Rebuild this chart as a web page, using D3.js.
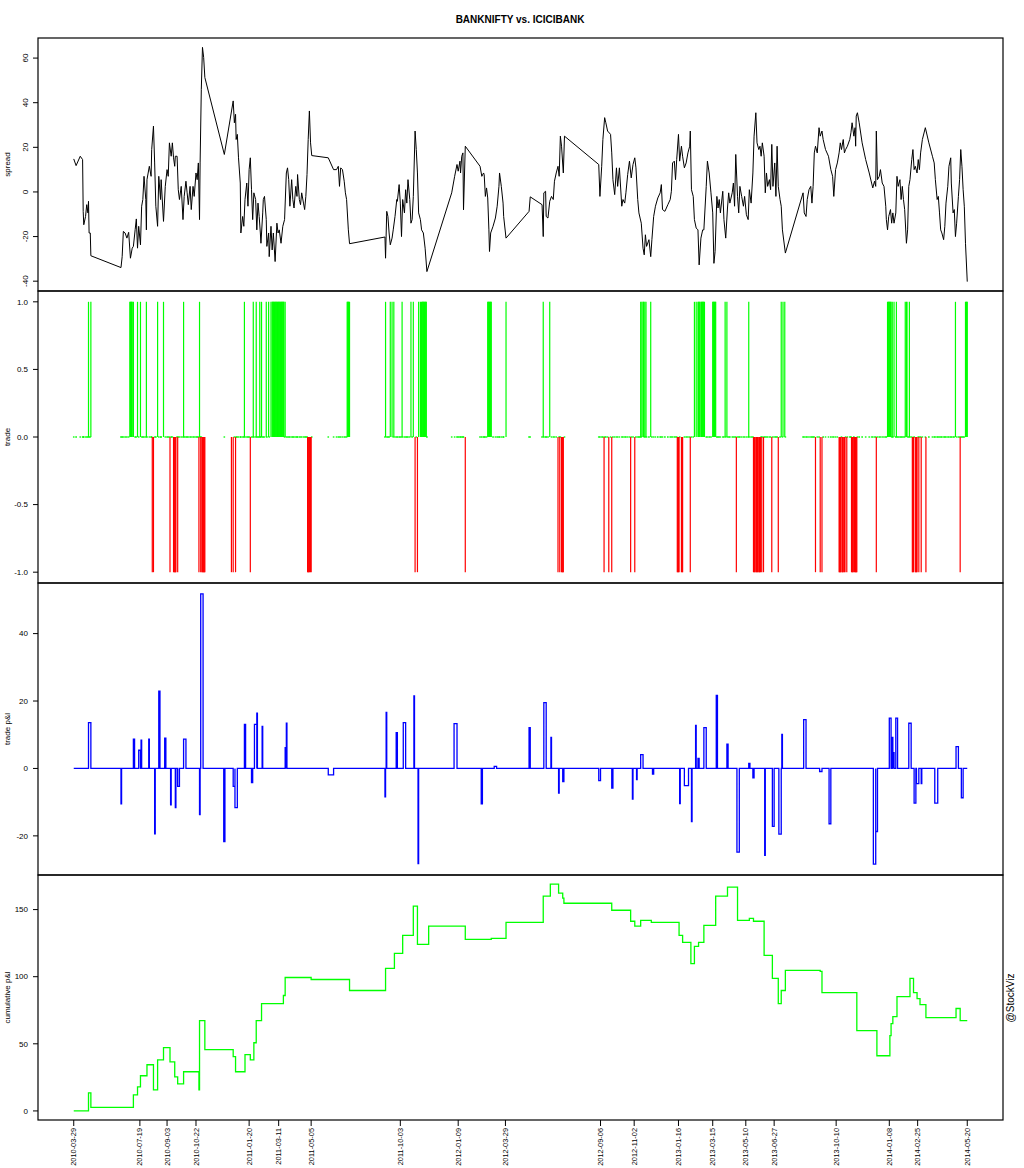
<!DOCTYPE html>
<html><head><meta charset="utf-8">
<script src="https://cdn.jsdelivr.net/npm/d3@7"></script>
<style>body{margin:0;background:#fff}svg{display:block}text{font-family:"Liberation Sans",Arial,sans-serif;fill:#000}</style>
</head><body><svg id="c" width="1024" height="1168"></svg>
<script>
// ---------------- DATA ----------------
const title = "BANKNIFTY vs. ICICIBANK";
const startDate = "2010-03-29";   // day offsets below are counted from this date
// spread: [day offset, value]
const spread = [
[0,14.8],[4,11.8],[11,16],[15,14.5],[16,-8.7],[17,-14.7],[20,-11],[22,-5.7],[24,-9.4],[25,-4.2],
[26,-18.4],[28,-18.4],[29,-28.6],[80,-33.9],[82,-29],[84,-17.7],[87,-18.4],[90,-20.7],[93,-18.1],[96,-29.7],
[99,-25.2],[101,-24.4],[104,-16.9],[106,-12.1],[108,-25.2],[110,-15.4],[113,-23.7],[115,-6.4],[117,-3.4],[119,7],
[122,-3.4],[123,-17],[124,5.5],[128,11.5],[131,7],[132,19],[135,29.5],[137,13],[139,-6.4],[142,-15.4],
[144,7],[147,-3.4],[148,5.5],[152,-13.2],[155,2.5],[158,10],[160,7],[162,22],[165,16],[167,22],
[169,15.3],[171,11.5],[172,16],[175,16],[177,1],[179,-3.4],[182,2.5],[185,-12.4],[187,-2],[190,4.8],
[192,-0.4],[194,-5.7],[197,2.5],[199,-7.9],[202,2.5],[204,-2],[207,8.5],[209,5.5],[211,13],[213,-12.4],
[214,13],[216,46],[218,64.8],[220,60.3],[222,51.3],[255,16.8],[270,40.8],[272,31],[274,34.8],[275,23.5],
[277,25.8],[279,15.3],[282,4],[283,-18.4],[286,-11],[288,-15.4],[290,-3.4],[293,4],[295,-6.4],[297,10],
[299,15.3],[301,1],[303,-12.4],[305,-0.4],[308,-3.4],[310,-17],[312,-5],[314,-11],[316,-18.4],[317,-23],
[320,-9.4],[321,-3.4],[323,-2],[326,-12.4],[327,-24.4],[330,-18.4],[331,-29],[334,-15.4],[336,-26],[338,-18.4],
[341,-31.2],[344,-14],[346,-18.4],[348,-17],[351,-23],[354,-15.4],[357,-12.4],[360,8.5],[362,10.8],[364,5.5],
[366,-6.4],[369,5.5],[371,-3.4],[373,-7.2],[376,2.5],[378,-2],[379,7.8],[382,-3.4],[384,-5.7],[386,-0.4],
[389,-5],[391,-7.9],[393,-2],[395,7.8],[397,23.5],[399,36.3],[401,22],[403,16.3],[431,15.3],[440,10],
[445,10],[448,11.5],[450,2.5],[452,10.8],[455,10],[458,4.8],[460,-0.4],[462,-3.4],[465,-17],[467,-23.2],
[527,-20.2],[528,-29.7],[530,-8.7],[532,-11],[534,-18.4],[536,-23.7],[539,-20.7],[541,-17],[544,-11],[547,-3.4],
[548,-4.2],[551,3.3],[553,-5],[555,-20],[557,-3.4],[560,-9.4],[562,1],[564,-5],[566,5.5],[569,-3.4],
[571,-14],[573,-12.4],[575,-2],[578,27.3],[580,19],[582,8.5],[584,-9.4],[587,-12.4],[589,-17],[592,-18.4],
[595,-25.2],[598,-35.7],[640,-0.4],[645,7],[649,12.3],[651,9.3],[654,13.8],[655,8.5],[657,16],[659,17.5],
[660,-8],[663,20.5],[688,11.5],[691,7],[694,8.5],[695,7.8],[697,-2],[699,1.8],[701,-2.7],[703,-17],
[704,-26.7],[706,-18.4],[710,-15.4],[714,-11.7],[717,-6.4],[720,2.5],[721,8.5],[724,2.5],[727,-5],[728,-11],
[732,-20.7],[771,-8.7],[773,-2.2],[793,-5.7],[795,-20],[796,-0.4],[799,0.3],[800,-11],[803,-11.7],[806,-4.2],
[809,-2],[812,-3.4],[814,4.8],[817,8.5],[820,11.5],[822,7],[824,25],[826,20.5],[829,8.5],[831,25],
[889,12.3],[891,-2],[894,11.5],[896,23.5],[899,33.3],[901,31],[904,27.3],[909,25.8],[911,17.5],[913,5.5],
[916,-1.2],[919,10.8],[921,2.5],[924,10.8],[928,-6.4],[930,-3.4],[933,-5],[935,-0.4],[938,7.8],[941,13.8],
[944,6.3],[947,12.3],[950,15.3],[952,10.8],[955,-3.4],[957,-9.4],[959,-11.7],[961,-14],[964,-25.2],[966,-28.2],
[968,-19.2],[970,-24.4],[974,-21.4],[977,-29],[979,-21.4],[982,-11],[985,-6.4],[989,-2.7],[993,-0.4],[995,3.3],
[997,-7.9],[1001,-8.7],[1006,-5.7],[1010,-3.4],[1012,0.3],[1014,13],[1017,13.8],[1019,5.5],[1021,14.5],[1024,25.8],
[1026,13.8],[1029,20.5],[1031,16],[1034,10.8],[1037,13],[1040,17.5],[1043,20.5],[1044,27.3],[1046,1],[1049,-2],
[1051,-12.4],[1054,-16.2],[1057,-17],[1059,-32.7],[1062,-20.7],[1065,-17],[1067,-17],[1071,2.5],[1073,13.8],[1076,8.5],
[1079,-0.4],[1082,-9.4],[1084,-32],[1086,-26.7],[1089,-2],[1091,-7.2],[1093,-3.4],[1095,-9.4],[1099,0.3],[1101,-12.4],
[1104,-20.7],[1107,-7.2],[1109,-0.4],[1111,-5],[1115,-0.4],[1117,4],[1119,-6.4],[1121,16.8],[1124,-2],[1126,-9.4],
[1128,2.5],[1131,-2],[1134,-6.4],[1136,-2],[1139,-10.2],[1142,-12.4],[1144,1],[1147,-5],[1150,8.5],[1152,25],
[1155,35.5],[1157,22],[1160,19],[1162,20.5],[1164,16],[1166,22],[1169,16],[1171,-0.4],[1173,8.5],[1175,2.5],
[1178,5.5],[1180,1],[1182,21.3],[1184,2.5],[1187,13],[1189,-2],[1191,20.5],[1193,2.5],[1196,-3.4],[1198,-6.4],
[1200,-17],[1205,-27.4],[1235,-0.4],[1237,-9.4],[1240,-11],[1242,-3.4],[1245,1],[1248,2.5],[1250,-5],[1252,2.5],
[1254,17.5],[1256,20.5],[1259,17.5],[1262,28.8],[1264,25],[1267,27.3],[1269,23.5],[1273,19],[1278,16],[1282,10],
[1285,7],[1287,-2],[1290,10],[1293,13],[1296,17.5],[1298,22],[1300,19],[1303,23.5],[1305,17.5],[1307,19],
[1310,20.5],[1314,23.5],[1316,26.5],[1318,31],[1321,25],[1323,28.8],[1324,20.5],[1325,34],[1327,35.5],[1330,31],
[1335,22],[1341,14.5],[1347,8.5],[1351,4],[1353,1.8],[1356,4.8],[1358,2.5],[1359,27.3],[1361,5.5],[1364,7],
[1366,10],[1369,4],[1372,2.5],[1375,-6.4],[1376,-12.4],[1378,-17],[1380,-11],[1383,-7.9],[1385,-14],[1387,-9.4],
[1389,-14],[1392,-9.4],[1394,7],[1396,2.5],[1399,5.5],[1401,-3.4],[1403,2.5],[1405,-3.4],[1407,-7.9],[1410,-23],
[1412,-17],[1414,2.5],[1416,5.5],[1419,14.5],[1421,19],[1423,10],[1425,11.5],[1428,8.5],[1430,14.5],[1432,10],
[1434,17.5],[1437,23.5],[1442,28.8],[1448,22],[1454,16],[1457,13],[1459,5.5],[1462,-3.4],[1464,-2],[1466,-9.4],
[1468,-17],[1470,-18.4],[1473,-21.4],[1475,-15.4],[1477,-5],[1480,2.5],[1482,11.5],[1485,15.3],[1486,4],[1489,-9.4],
[1491,-7.9],[1493,-20],[1495,-14],[1498,-2],[1500,5.5],[1502,19],[1504,11.5],[1506,1],[1508,-6.4],[1510,-23],
[1513,-40.2]
];
// trade = +1 days (long) and -1 days (short)
const longDays = [25,29,95,96,97,98,99,101,108,113,123,142,152,186,213,289,304,309,315,318,326,330,334,
336,337,338,339,340,341,342,343,344,345,346,347,348,349,350,351,352,353,354,355,356,358,
463,464,465,466,467,528,536,539,542,556,571,575,584,587,589,590,591,592,593,594,595,596,597,
701,702,703,704,705,706,707,732,795,806,960,962,964,965,967,969,977,1051,1054,1057,1058,1059,1060,
1062,1063,1064,1065,1066,1067,1068,1082,1083,1084,1085,1086,1087,1103,1106,1143,1198,1201,1204,
1378,1379,1380,1381,1382,1383,1384,1386,1389,1393,1408,1410,1411,1415,1493,1510,1511,1512,1513];
const shortDays = [133,135,163,169,170,171,172,173,176,212,215,217,218,219,220,221,222,267,270,274,299,
396,397,398,399,401,402,578,582,663,820,823,826,827,828,829,898,906,911,943,950,
1022,1023,1024,1025,1029,1030,1031,1044,1122,1151,1152,1153,1155,1156,1157,1158,1160,1161,1162,1163,1165,1168,
1182,1193,1256,1264,1267,1296,1297,1298,1299,1301,1302,1303,1305,1306,1309,1317,1318,1319,1320,1322,1323,1324,1325,1326,
1359,1420,1421,1422,1425,1426,1427,1428,1431,1435,1443,1501];
// trade p&l excursions: [start day, end day, value]
const tradePnl = [
[25,29,13.6],[80,81,-10.5],[101,103,8.7],[110,113,5.4],[114,115,8.4],[127,128,8.7],[137,138,-19.4],[144,146,22.9],
[154,156,9],[164,165,-10.8],[172,173,-11.6],[176,179,-5.3],[186,190,8.7],[213,214,-13.7],[215,219,51.8],[254,256,-21.7],
[270,273,-5.3],[273,277,-11.6],[289,291,13.1],[301,303,-4.2],[306,310,13.1],[310,311,16.4],[319,320,12.5],[358,360,6.2],
[360,361,13.4],[431,440,-1.9],[527,528,-8.4],[529,530,16.6],[546,548,10.6],[558,562,13.6],[576,577,21.5],[583,584,-28.2],
[644,649,13.3],[690,692,-10.5],[712,716,0.6],[771,773,12.1],[796,800,19.5],[808,809,9.2],[821,822,-7.3],[828,830,-3.9],
[889,892,-3.6],[911,913,-5.8],[946,947,-9.1],[953,954,-3.3],[960,964,4.1],[980,982,-1.7],[1026,1027,-10.4],[1034,1041,-5.1],
[1046,1047,-15.8],[1053,1054,12.8],[1057,1059,3],[1067,1071,12.1],[1088,1090,21.7],[1106,1108,7.2],[1123,1127,-24.8],[1143,1145,1.5],
[1150,1152,-2.8],[1170,1171,-25.8],[1183,1186,-17.2],[1194,1198,-19.5],[1199,1200,10.1],[1236,1240,14.5],[1263,1267,-0.9],[1279,1282,-16.4],
[1354,1358,-28.4],[1358,1361,-18.7],[1381,1384,14.9],[1386,1387,9.2],[1387,1389,4.7],[1392,1395,14.9],[1414,1418,13.4],[1423,1426,-10.3],
[1427,1431,-4.5],[1435,1436,-4.5],[1458,1463,-10.3],[1494,1498,6.5],[1503,1506,-8.7]
];
const lastDay = 1513;
// cumulative p&l steps: [day, value]
const cumulative = [
[0,0],[25,13.5],[29,2.7],[101,12],[108,17.9],[113,26.2],[124,34.4],[135,15.7],[142,38.1],[152,47.1],
[163,36.6],[171,25.4],[176,20.2],[186,29.2],[212,15.7],[213,67.3],[222,45.6],[270,40.4],[274,29.2],[290,41.9],
[299,38.1],[305,50.8],[309,67.3],[318,80],[355,86],[358,99.4],[402,97.9],[467,89.7],[528,106.2],[543,117.4],
[557,130.8],[575,152.5],[582,124.1],[601,137.6],[663,127.8],[707,128.6],[732,140.5],[795,160],[807,169],[821,162.2],
[828,158.5],[830,154.7],[911,149.5],[943,141.3],[950,137.6],[960,142],[978,140.5],[1025,130.8],[1031,125.6],[1045,109.7],
[1051,122.6],[1058,125.6],[1067,138.3],[1087,160],[1107,166.7],[1124,142],[1144,143.5],[1151,141.3],[1169,115.9],[1183,98.7],
[1193,80],[1198,89.7],[1205,104.7],[1264,103.9],[1267,88.2],[1326,59.8],[1360,41.1],[1382,56.1],[1384,65],[1387,70.3],
[1394,85.2],[1416,98.7],[1422,88.2],[1428,83.7],[1433,79.2],[1443,69.5],[1494,76.3],[1501,67.3],[1513,67.3]
];
const xTickLabels = ["2010-03-29","2010-07-19","2010-09-03","2010-10-22","2011-01-20","2011-03-11","2011-05-05",
"2011-10-03","2012-01-09","2012-03-29","2012-09-06","2012-11-02","2013-01-16","2013-03-15","2013-05-10",
"2013-06-27","2013-10-10","2014-01-08","2014-02-25","2014-05-20"];
const spreadTicks = [-40,-20,0,20,40,60];
const tradeTicks = [-1,-0.5,0,0.5,1];
const pnlTicks = [-20,0,20,40];
const cumTicks = [0,50,100,150];
const panelLabels = ["spread","trade","trade p&l","cumulative p&l"];
const credit = "@StockViz";

// ---------------- DRAW ----------------
const svg = d3.select("#c");
const parse = d3.utcParse("%Y-%m-%d");
const t0 = parse(startDate);
const dt = d => d3.utcDay.offset(t0, d);
const L = 38, R = 1003;
const panels = [[38,291],[291,583],[583,875],[875,1120]];

const d0 = dt(0), d1 = dt(lastDay), padT = (d1 - d0) * 0.04;
const x = d3.scaleUtc().domain([new Date(+d0 - padT), new Date(+d1 + padT)]).range([L, R]);

function padded(lo, hi){ const p = (hi - lo) * 0.04; return [lo - p, hi + p]; }

const sv = spread.map(d => d[1]);
const y1 = d3.scaleLinear().domain(padded(d3.min(sv), d3.max(sv))).range([panels[0][1], panels[0][0]]);
const y2 = d3.scaleLinear().domain(padded(-1, 1)).range([panels[1][1], panels[1][0]]);
const pv = tradePnl.map(d => d[2]).concat([0]);
const y3 = d3.scaleLinear().domain(padded(d3.min(pv), d3.max(pv))).range([panels[2][1], panels[2][0]]);
const cv = cumulative.map(d => d[1]);
const y4 = d3.scaleLinear().domain(padded(d3.min(cv), d3.max(cv))).range([panels[3][1], panels[3][0]]);

const hy = f => (v => f(v).replace("\u2212", "-"));

// title
svg.append("text").attr("x", 520).attr("y", 23).attr("text-anchor", "middle")
  .attr("font-weight", "bold").attr("font-size", 10).text(title);

// y axes
function yAxis(scale, ticks, fmt, rotated, label, panel){
  const g = svg.append("g");
  ticks.forEach(t => {
    const yy = scale(t);
    g.append("line").attr("x1", L - 5).attr("x2", L).attr("y1", yy).attr("y2", yy).attr("stroke", "#000").attr("stroke-width", 1);
    if (rotated) {
      g.append("text").attr("transform", `translate(25,${yy}) rotate(-90)`).attr("text-anchor", "middle")
        .attr("dy", "0.35em").attr("font-size", 8).text(fmt(t));
    } else {
      g.append("text").attr("x", 28).attr("y", yy).attr("dy", "0.35em").attr("text-anchor", "end")
        .attr("font-size", 8).text(fmt(t));
    }
  });
  const cy = (panel[0] + panel[1]) / 2;
  g.append("text").attr("transform", `translate(7,${cy}) rotate(-90)`).attr("text-anchor", "middle")
    .attr("dy", "0.35em").attr("font-size", 8).text(label);
}
yAxis(y1, spreadTicks, hy(d3.format("d")), true, panelLabels[0], panels[0]);
yAxis(y2, tradeTicks, hy(d3.format(".1f")), false, panelLabels[1], panels[1]);
yAxis(y3, pnlTicks, hy(d3.format("d")), false, panelLabels[2], panels[2]);
yAxis(y4, cumTicks, hy(d3.format("d")), false, panelLabels[3], panels[3]);

// panel 1: spread line
svg.append("path").datum(spread).attr("fill", "none").attr("stroke", "#000").attr("stroke-width", 1)
  .attr("d", d3.line().x(d => x(dt(d[0]))).y(d => y1(d[1])));

// panel 2: trades
const longSet = new Set(longDays), shortSet = new Set(shortDays);
svg.append("g").selectAll("line").data(spread.filter(d => !longSet.has(d[0]) && !shortSet.has(d[0]))).join("line")
  .attr("x1", d => x(dt(d[0])) - 0.8).attr("x2", d => x(dt(d[0])) + 0.8)
  .attr("y1", y2(0)).attr("y2", y2(0)).attr("stroke", "#00ff00").attr("stroke-width", 1.3);
svg.append("g").selectAll("line").data(longDays).join("line")
  .attr("x1", d => x(dt(d))).attr("x2", d => x(dt(d))).attr("y1", y2(0)).attr("y2", y2(1))
  .attr("stroke", "#00ff00").attr("stroke-width", 1.2);
svg.append("g").selectAll("line").data(shortDays).join("line")
  .attr("x1", d => x(dt(d))).attr("x2", d => x(dt(d))).attr("y1", y2(0)).attr("y2", y2(-1))
  .attr("stroke", "#ff0000").attr("stroke-width", 1.2);

// panel 3: trade p&l step line
const pnlPts = [[0, 0]];
tradePnl.forEach(d => { pnlPts.push([d[0], d[2]]); pnlPts.push([d[1], 0]); });
pnlPts.push([lastDay, 0]);
svg.append("path").datum(pnlPts).attr("fill", "none").attr("stroke", "#0000ff").attr("stroke-width", 1.3)
  .attr("d", d3.line().curve(d3.curveStepAfter).x(d => x(dt(d[0]))).y(d => y3(d[1])));

// panel 4: cumulative p&l
svg.append("path").datum(cumulative).attr("fill", "none").attr("stroke", "#00ff00").attr("stroke-width", 1.3)
  .attr("d", d3.line().curve(d3.curveStepAfter).x(d => x(dt(d[0]))).y(d => y4(d[1])));

// frames
panels.forEach(p => svg.append("rect").attr("x", L).attr("y", p[0]).attr("width", R - L).attr("height", p[1] - p[0])
  .attr("fill", "none").attr("stroke", "#000").attr("stroke-width", 1.2));

// x axis
const xb = panels[3][1];
xTickLabels.forEach(s => {
  const xx = x(parse(s));
  svg.append("line").attr("x1", xx).attr("x2", xx).attr("y1", xb).attr("y2", xb + 6).attr("stroke", "#000");
  svg.append("text").attr("transform", `translate(${xx},${xb + 8}) rotate(-90)`).attr("text-anchor", "end")
    .attr("dy", "0.35em").attr("font-size", 7.4).text(s);
});

// credit
svg.append("text").attr("transform", "translate(1010,998) rotate(-90)").attr("text-anchor", "middle")
  .attr("dy", "0.35em").attr("font-size", 10).text(credit);
</script></body></html>
